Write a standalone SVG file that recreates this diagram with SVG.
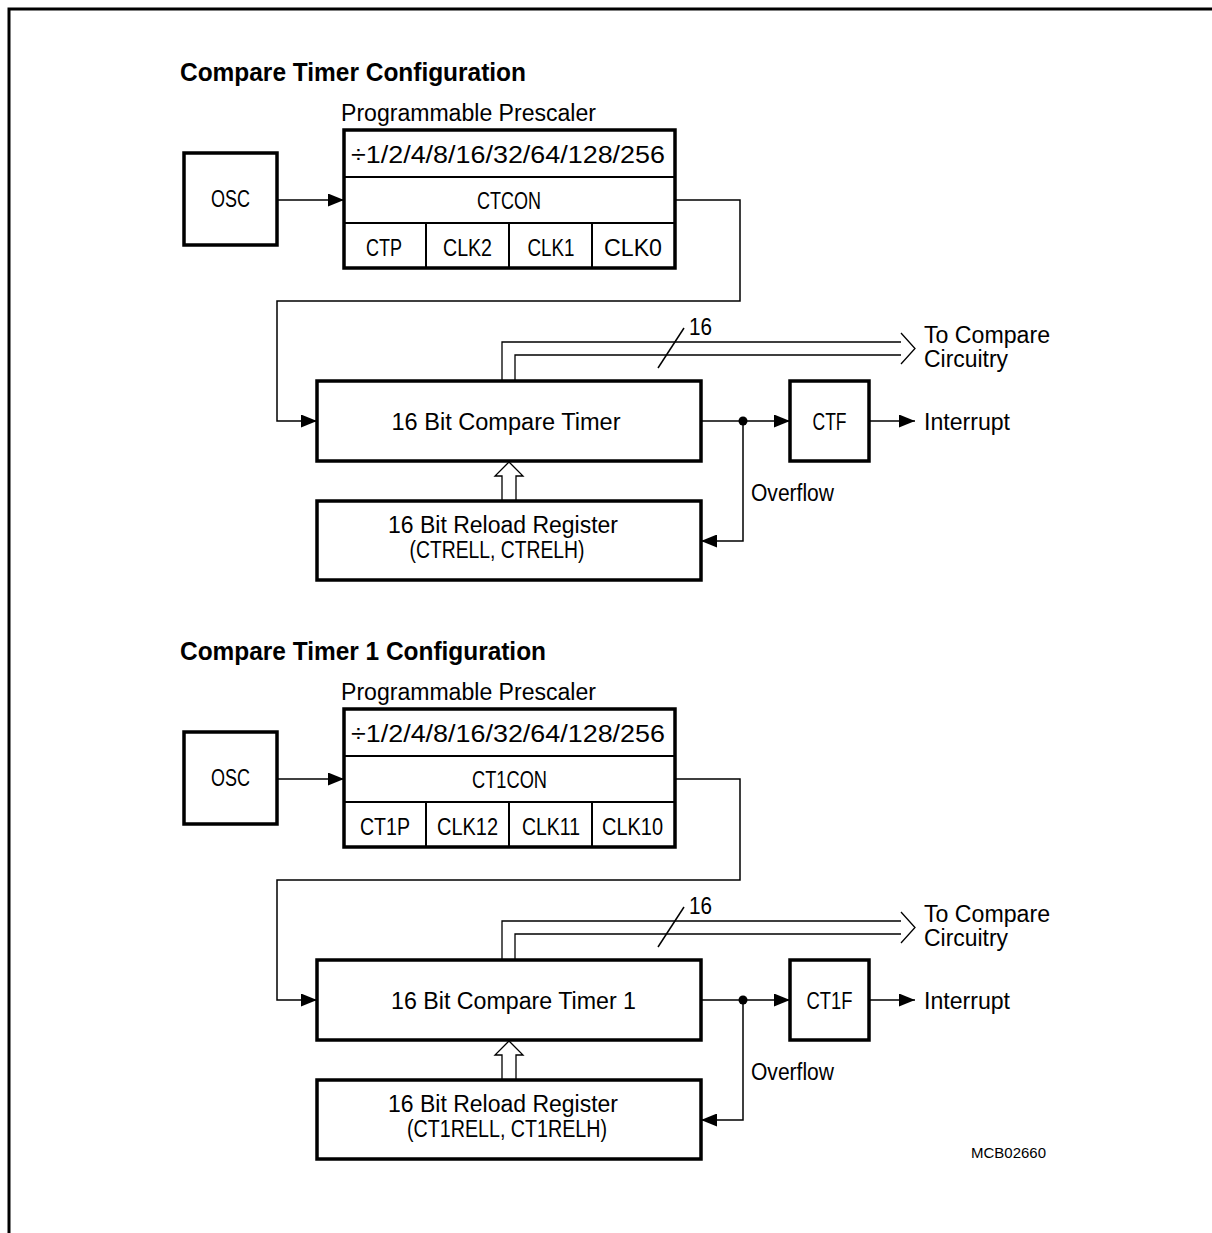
<svg xmlns="http://www.w3.org/2000/svg" width="1212" height="1233" viewBox="0 0 1212 1233">
<style>
  text { font-family: "Liberation Sans", Arial, sans-serif; font-size: 23px; fill: #000; }
  .title { font-size: 25px; font-weight: bold; }
  .small { font-size: 15px; }
  .box { fill: #fff; stroke: #000; stroke-width: 3.5; }
  .div { fill: none; stroke: #000; stroke-width: 2; }
  .wire { fill: none; stroke: #000; stroke-width: 1.5; }
  .bus { fill: none; stroke: #000; stroke-width: 1.3; }
  .ah { fill: #000; stroke: none; }
</style>
<defs>
  <marker id="arr" viewBox="0 0 16 13" refX="16" refY="6.5" markerWidth="16" markerHeight="13" markerUnits="userSpaceOnUse" orient="auto">
    <path d="M0,0 L16,6.5 L0,13 z" class="ah"/>
  </marker>
</defs>
<rect width="1212" height="1233" fill="#fff"/>
<g id="frame">
  <path d="M1212,9 H9 V1233" fill="none" stroke="#000" stroke-width="3"/>
</g>

<!-- ===== Section 1 ===== -->
<g id="section1">
  <text id="title1" class="title" x="180" y="81" textLength="346" lengthAdjust="spacingAndGlyphs">Compare Timer Configuration</text>
  <text x="341" y="121" textLength="255" lengthAdjust="spacingAndGlyphs">Programmable Prescaler</text>

  <g id="osc1">
    <rect class="box" x="184" y="153" width="93" height="92"/>
    <text x="230.5" y="207" text-anchor="middle" textLength="39" lengthAdjust="spacingAndGlyphs">OSC</text>
  </g>

  <g id="prescaler1">
    <rect class="box" x="344" y="130" width="331" height="138"/>
    <path class="div" d="M344,177 H675 M344,223 H675 M426,223 V268 M509,223 V268 M592,223 V268"/>
    <text x="508" y="163" text-anchor="middle" textLength="314" lengthAdjust="spacingAndGlyphs">÷1/2/4/8/16/32/64/128/256</text>
    <text x="509" y="209" text-anchor="middle" textLength="64" lengthAdjust="spacingAndGlyphs">CTCON</text>
    <text x="384" y="256" text-anchor="middle" textLength="36" lengthAdjust="spacingAndGlyphs">CTP</text>
    <text x="467.5" y="256" text-anchor="middle" textLength="49" lengthAdjust="spacingAndGlyphs">CLK2</text>
    <text x="551" y="256" text-anchor="middle" textLength="47" lengthAdjust="spacingAndGlyphs">CLK1</text>
    <text x="633" y="256" text-anchor="middle" textLength="58" lengthAdjust="spacingAndGlyphs">CLK0</text>
  </g>

  <g id="timer1">
    <rect class="box" x="317" y="381" width="384" height="80"/>
    <text x="506" y="430" text-anchor="middle" textLength="229" lengthAdjust="spacingAndGlyphs">16 Bit Compare Timer</text>
  </g>

  <g id="reload1">
    <rect class="box" x="317" y="501" width="384" height="79"/>
    <text x="503" y="533" text-anchor="middle" textLength="230" lengthAdjust="spacingAndGlyphs">16 Bit Reload Register</text>
    <text x="497" y="558" text-anchor="middle" textLength="175" lengthAdjust="spacingAndGlyphs">(CTRELL, CTRELH)</text>
  </g>

  <g id="ctf">
    <rect class="box" x="790" y="381" width="79" height="80"/>
    <text x="829.5" y="430" text-anchor="middle" textLength="34" lengthAdjust="spacingAndGlyphs">CTF</text>
  </g>

  <g id="labels1">
    <text x="924" y="343" textLength="126" lengthAdjust="spacingAndGlyphs">To Compare</text>
    <text x="924" y="367" textLength="84" lengthAdjust="spacingAndGlyphs">Circuitry</text>
    <text x="924" y="430" textLength="86" lengthAdjust="spacingAndGlyphs">Interrupt</text>
    <text x="751" y="501" textLength="83" lengthAdjust="spacingAndGlyphs">Overflow</text>
    <text x="689" y="335" textLength="23" lengthAdjust="spacingAndGlyphs">16</text>
  </g>

  <g id="connectors1">
    <path class="wire" d="M277,200 H344" marker-end="url(#arr)"/>
    <path class="wire" d="M675,200 H740 V301 H277 V421 H317" marker-end="url(#arr)"/>
    <path class="wire" d="M701,421 H790" marker-end="url(#arr)"/>
    <circle cx="743" cy="421" r="4.5" fill="#000"/>
    <path class="wire" d="M743,421 V541 H701" marker-end="url(#arr)"/>
    <path class="wire" d="M869,421 H915" marker-end="url(#arr)"/>
    <path class="bus" d="M502,381 V342 H901 M515,381 V355 H901 M901,333 L915,348.5 L901,364"/>
    <path class="wire" d="M658,368 L684,328"/>
    <path class="bus" fill="#fff" d="M502,501 V476 H495 L509,462 L523,476 H516 V501"/>
  </g>
</g>

<!-- ===== Section 2 ===== -->
<g id="section2" transform="translate(0,579)">
  <text id="title2" class="title" x="180" y="81" textLength="366" lengthAdjust="spacingAndGlyphs">Compare Timer 1 Configuration</text>
  <text x="341" y="121" textLength="255" lengthAdjust="spacingAndGlyphs">Programmable Prescaler</text>

  <g id="osc2">
    <rect class="box" x="184" y="153" width="93" height="92"/>
    <text x="230.5" y="207" text-anchor="middle" textLength="39" lengthAdjust="spacingAndGlyphs">OSC</text>
  </g>

  <g id="prescaler2">
    <rect class="box" x="344" y="130" width="331" height="138"/>
    <path class="div" d="M344,177 H675 M344,223 H675 M426,223 V268 M509,223 V268 M592,223 V268"/>
    <text x="508" y="163" text-anchor="middle" textLength="314" lengthAdjust="spacingAndGlyphs">÷1/2/4/8/16/32/64/128/256</text>
    <text x="509.5" y="209" text-anchor="middle" textLength="75" lengthAdjust="spacingAndGlyphs">CT1CON</text>
    <text x="385" y="256" text-anchor="middle" textLength="50" lengthAdjust="spacingAndGlyphs">CT1P</text>
    <text x="467.5" y="256" text-anchor="middle" textLength="61" lengthAdjust="spacingAndGlyphs">CLK12</text>
    <text x="551" y="256" text-anchor="middle" textLength="58" lengthAdjust="spacingAndGlyphs">CLK11</text>
    <text x="632.5" y="256" text-anchor="middle" textLength="61" lengthAdjust="spacingAndGlyphs">CLK10</text>
  </g>

  <g id="timer2">
    <rect class="box" x="317" y="381" width="384" height="80"/>
    <text x="513.5" y="430" text-anchor="middle" textLength="245" lengthAdjust="spacingAndGlyphs">16 Bit Compare Timer 1</text>
  </g>

  <g id="reload2">
    <rect class="box" x="317" y="501" width="384" height="79"/>
    <text x="503" y="533" text-anchor="middle" textLength="230" lengthAdjust="spacingAndGlyphs">16 Bit Reload Register</text>
    <text x="507" y="558" text-anchor="middle" textLength="200" lengthAdjust="spacingAndGlyphs">(CT1RELL, CT1RELH)</text>
  </g>

  <g id="ct1f">
    <rect class="box" x="790" y="381" width="79" height="80"/>
    <text x="829.5" y="430" text-anchor="middle" textLength="46" lengthAdjust="spacingAndGlyphs">CT1F</text>
  </g>

  <g id="labels2">
    <text x="924" y="343" textLength="126" lengthAdjust="spacingAndGlyphs">To Compare</text>
    <text x="924" y="367" textLength="84" lengthAdjust="spacingAndGlyphs">Circuitry</text>
    <text x="924" y="430" textLength="86" lengthAdjust="spacingAndGlyphs">Interrupt</text>
    <text x="751" y="501" textLength="83" lengthAdjust="spacingAndGlyphs">Overflow</text>
    <text x="689" y="335" textLength="23" lengthAdjust="spacingAndGlyphs">16</text>
  </g>

  <g id="connectors2">
    <path class="wire" d="M277,200 H344" marker-end="url(#arr)"/>
    <path class="wire" d="M675,200 H740 V301 H277 V421 H317" marker-end="url(#arr)"/>
    <path class="wire" d="M701,421 H790" marker-end="url(#arr)"/>
    <circle cx="743" cy="421" r="4.5" fill="#000"/>
    <path class="wire" d="M743,421 V541 H701" marker-end="url(#arr)"/>
    <path class="wire" d="M869,421 H915" marker-end="url(#arr)"/>
    <path class="bus" d="M502,381 V342 H901 M515,381 V355 H901 M901,333 L915,348.5 L901,364"/>
    <path class="wire" d="M658,368 L684,328"/>
    <path class="bus" fill="#fff" d="M502,501 V476 H495 L509,462 L523,476 H516 V501"/>
  </g>
</g>

<text id="ref" class="small" x="971" y="1158" textLength="75" lengthAdjust="spacingAndGlyphs">MCB02660</text>
</svg>
